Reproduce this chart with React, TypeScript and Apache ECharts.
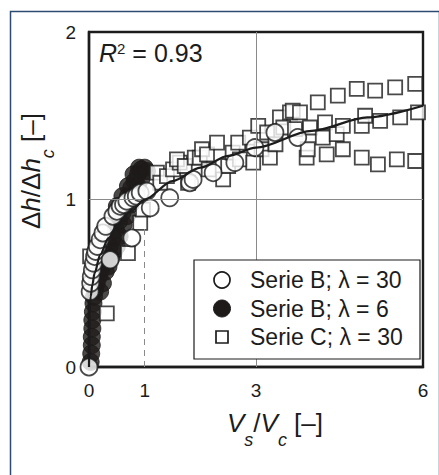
import React, { useEffect, useRef } from "react";
import * as echarts from "echarts";

const FONT = "'Liberation Sans', Arial, Helvetica, sans-serif";

const xTicks = [0, 1, 3, 6];
const yTicks = [0, 1, 2];

const seriesNames = ["Serie B; λ = 30", "Serie B; λ = 6", "Serie C; λ = 30"];

// Serie B, lambda = 30 (open circles)
const b30X = [0, 0.02, 0.03, 0.04, 0.06, 0.08, 0.1, 0.12, 0.15, 0.2, 0.25, 0.3, 0.38, 0.43, 0.5, 0.56, 0.62, 0.68, 0.77, 0.79, 0.85, 0.92, 1.04, 1.1, 1.45, 1.81, 1.87, 2.23, 2.62, 2.98, 3.34, 3.75];
const b30Y = [0, 0.45, 0.5, 0.54, 0.58, 0.62, 0.66, 0.69, 0.72, 0.76, 0.8, 0.84, 0.64, 0.9, 0.93, 0.96, 0.97, 0.99, 0.77, 1.01, 1.02, 1.04, 1.05, 0.95, 1.01, 1.1, 1.12, 1.16, 1.22, 1.31, 1.4, 1.37];

// Serie B, lambda = 6 (filled circles)
const b6X = [0.03, 0.04, 0.05, 0.05, 0.06, 0.06, 0.07, 0.08, 0.09, 0.11, 0.14, 0.18, 0.2, 0.22, 0.25, 0.27, 0.3, 0.32, 0.35, 0.37, 0.4, 0.43, 0.45, 0.48, 0.5, 0.54, 0.55, 0.5, 0.6, 0.6, 0.62, 0.65, 0.68, 0.7, 0.7, 0.75, 0.76, 0.8, 0.82, 0.82, 0.88, 0.88, 0.9, 0.94, 0.95, 1.0, 1.04];
const b6Y = [0.03, 0.08, 0.13, 0.18, 0.23, 0.28, 0.33, 0.38, 0.42, 0.46, 0.5, 0.54, 0.45, 0.58, 0.5, 0.62, 0.57, 0.67, 0.6, 0.72, 0.65, 0.77, 0.69, 0.82, 0.72, 0.87, 0.78, 0.96, 0.92, 1.02, 0.85, 0.97, 0.9, 1.02, 1.08, 0.97, 1.07, 1.15, 1.11, 1.03, 1.15, 1.08, 1.19, 1.18, 1.13, 1.19, 1.17];

// Serie C, lambda = 30 (open squares)
const c30X = [0.02, 0.32, 0.7, 0.92, 0.97, 1.22, 1.28, 1.4, 1.51, 1.63, 1.58, 1.72, 1.78, 1.9, 1.99, 2.03, 2.12, 2.15, 2.3, 2.41, 2.5, 2.58, 2.68, 2.71, 2.89, 2.95, 3.04, 3.1, 3.2, 3.25, 3.35, 3.43, 3.49, 3.61, 3.66, 3.7, 3.79, 3.91, 3.93, 3.97, 4.11, 4.2, 4.24, 4.27, 4.45, 4.47, 4.56, 4.56, 4.81, 4.9, 4.9, 4.96, 5.14, 5.19, 5.23, 5.5, 5.53, 5.59, 5.86, 5.86, 5.91];
const c30Y = [0.66, 0.32, 0.68, 0.86, 0.94, 1.16, 1.1, 1.14, 1.18, 1.22, 1.24, 1.2, 1.1, 1.25, 1.25, 1.3, 1.27, 1.18, 1.34, 1.12, 1.2, 1.28, 1.34, 1.24, 1.37, 1.22, 1.44, 1.3, 1.4, 1.25, 1.33, 1.49, 1.43, 1.52, 1.53, 1.42, 1.52, 1.25, 1.3, 1.43, 1.58, 1.37, 1.46, 1.27, 1.39, 1.62, 1.44, 1.3, 1.66, 1.25, 1.44, 1.5, 1.65, 1.21, 1.47, 1.67, 1.24, 1.49, 1.69, 1.23, 1.52];

// Fitted curve (R^2 = 0.93)
const fitX = [0, 0.01, 0.03, 0.06, 0.1, 0.2, 0.35, 0.5, 0.75, 1, 1.5, 2, 2.5, 3, 4, 5, 6];
const fitY = [0, 0.32, 0.42, 0.49, 0.56, 0.67, 0.77, 0.84, 0.93, 1.0, 1.11, 1.19, 1.26, 1.31, 1.41, 1.49, 1.56];

// Reference lines
const gridX = 3;
const gridY = 1;
const dashedX = 1;
const dashedTop = 0.85;

const pair = (xs: number[], ys: number[]) => xs.map((x, i) => [x, ys[i]]);

export default function App() {
  const ref = useRef<HTMLDivElement>(null);

  useEffect(() => {
    const chart = echarts.init(ref.current!, null, { renderer: "svg" });
    const ink = "#1c1c1c";
    const main = { fontSize: 26, lineHeight: 26, fontFamily: FONT, fill: ink, color: ink, verticalAlign: "middle" };
    const ital = { ...main, fontStyle: "italic" };
    const sub = { fontSize: 18, lineHeight: 18, fontFamily: FONT, fontStyle: "italic", fill: ink, color: ink, padding: [34, 0, 0, 0], verticalAlign: "middle" };

    // hand-drawn legend (box, symbols, texts)
    const legX = 194, legY = 260, legW = 226, legH = 99;
    const rowY = [280, 308.5, 337];
    const symX = 222, txtX = 250;
    const legendEls: any[] = [
      {
        type: "rect",
        shape: { x: legX, y: legY, width: legW, height: legH },
        style: { fill: "#fff", stroke: ink, lineWidth: 1.2 },
        z: 20,
      },
      {
        type: "circle",
        shape: { cx: symX, cy: rowY[0], r: 8 },
        style: { fill: "#fff", stroke: ink, lineWidth: 1.7 },
        z: 21,
      },
      {
        type: "circle",
        shape: { cx: symX, cy: rowY[1], r: 8.5 },
        style: { fill: "#1e1a1a", stroke: "#1e1a1a", lineWidth: 1 },
        z: 21,
      },
      {
        type: "rect",
        shape: { x: symX - 6, y: rowY[2] - 6, width: 12, height: 12 },
        style: { fill: "#fff", stroke: ink, lineWidth: 1.7 },
        z: 21,
      },
      ...seriesNames.map((name, i) => ({
        type: "text",
        x: txtX,
        y: rowY[i],
        style: { text: name, fontSize: 23, fontFamily: FONT, fill: ink, verticalAlign: "middle", align: "left" },
        z: 21,
      })),
    ];

    chart.setOption({
      animation: false,
      backgroundColor: "#fff",
      grid: { left: 89, right: 16, top: 32, bottom: 108, show: true, borderColor: ink, borderWidth: 2.4, backgroundColor: "transparent" },
      xAxis: {
        type: "value",
        min: 0,
        max: 6,
        interval: 1,
        axisLine: { show: true, lineStyle: { color: ink, width: 2.4 } },
        axisTick: { show: false },
        splitLine: { show: false },
        axisLabel: {
          margin: 14,
          fontSize: 19,
          fontFamily: FONT,
          color: ink,
          showMaxLabel: true,
          formatter: (v: number) => (xTicks.includes(v) ? String(v) : ""),
        },
      },
      yAxis: {
        type: "value",
        min: 0,
        max: 2,
        interval: 1,
        axisLine: { show: true, lineStyle: { color: ink, width: 2.4 } },
        axisTick: { show: false },
        splitLine: { show: false },
        axisLabel: {
          margin: 13,
          fontSize: 19,
          fontFamily: FONT,
          color: ink,
          formatter: (v: number) => (yTicks.includes(v) ? String(v) : ""),
        },
      },
      graphic: [
        {
          type: "rect",
          left: 8,
          top: 9,
          shape: { width: 429, height: 480 },
          style: { fill: "none", stroke: "#2d4b72", lineWidth: 1.5 },
          silent: true,
          z: -10,
        },
        {
          type: "text",
          x: 99,
          y: 39,
          style: {
            text: "{i|R}{s|2}{n| = 0.93}",
            verticalAlign: "top",
            rich: {
              i: { fontSize: 25, lineHeight: 27, fontStyle: "italic", fontFamily: FONT, fill: ink, verticalAlign: "middle" },
              s: { fontSize: 15, lineHeight: 15, fontFamily: FONT, fill: ink, padding: [0, 0, 9, 0], verticalAlign: "middle" },
              n: { fontSize: 25, lineHeight: 27, fontFamily: FONT, fill: ink, verticalAlign: "middle" },
            },
          },
          z: 10,
        },
        {
          type: "text",
          x: 275,
          y: 410,
          style: {
            text: "{i|V}{s|s}{m|/}{i|V}{s|c}{m| [–]}",
            align: "center",
            verticalAlign: "top",
            rich: { i: ital, m: main, s: sub },
          },
          z: 10,
        },
        {
          type: "text",
          x: 18,
          y: 171,
          rotation: Math.PI / 2,
          style: {
            text: "{m|Δ}{i|h}{m|/Δ}{i|h}{s|c}{m| [–]}",
            align: "center",
            verticalAlign: "top",
            rich: { i: ital, m: main, s: sub },
          },
          z: 10,
        },
        ...legendEls,
      ],
      series: [
        {
          type: "line",
          data: [],
          z: 1,
          silent: true,
          markLine: {
            silent: true,
            symbol: "none",
            label: { show: false },
            lineStyle: { color: "#8a8a8a", width: 1, type: "solid" },
            data: [
              { xAxis: gridX },
              { yAxis: gridY },
              [
                { coord: [dashedX, 0], lineStyle: { type: [6, 5], color: "#8a8a8a", width: 1 } },
                { coord: [dashedX, dashedTop] },
              ],
            ],
          },
        },
        {
          name: seriesNames[1],
          type: "scatter",
          z: 2,
          clip: false,
          symbol: "circle",
          symbolSize: 17,
          itemStyle: { color: "#1e1a1a", borderColor: "#1e1a1a", borderWidth: 1 },
          data: pair(b6X, b6Y),
        },
        {
          name: seriesNames[2],
          type: "scatter",
          z: 3,
          clip: false,
          symbol: "rect",
          symbolSize: 14,
          itemStyle: { color: "#fff", borderColor: ink, borderWidth: 1.8 },
          data: pair(c30X, c30Y),
        },
        {
          name: seriesNames[0],
          type: "scatter",
          z: 4,
          clip: false,
          symbol: "circle",
          symbolSize: 17,
          itemStyle: { color: "#fff", borderColor: ink, borderWidth: 1.8 },
          data: pair(b30X, b30Y),
        },
        {
          name: "fit",
          type: "line",
          z: 5,
          silent: true,
          showSymbol: false,
          smooth: 0.3,
          smoothMonotone: "x",
          lineStyle: { color: ink, width: 2.2 },
          data: pair(fitX, fitY),
        },
      ],
    });
    return () => chart.dispose();
  }, []);

  return (
    <div
      ref={ref}
      style={{ position: "fixed", left: 0, top: 0, width: 439, height: 475, background: "#fff" }}
    />
  );
}
